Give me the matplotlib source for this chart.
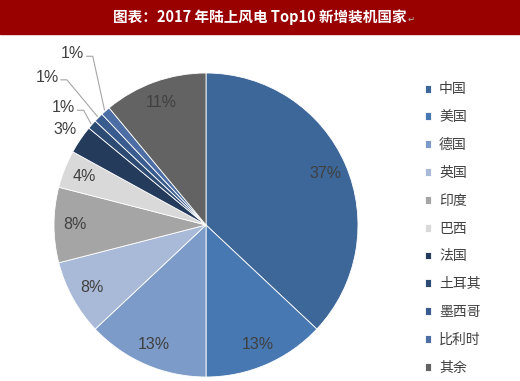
import matplotlib.pyplot as plt
import numpy as np

plt.switch_backend('Agg')
plt.rcParams['font.family'] = ['Noto Sans CJK SC', 'DejaVu Sans']

# data
countries = ["中国", "美国", "德国", "英国", "印度", "巴西", "法国", "土耳其", "墨西哥", "比利时", "其余"]
shares = [37, 13, 13, 8, 8, 4, 3, 1, 1, 1, 11]
colors = ["#3D6699", "#4878B2", "#7D9BC8", "#A9BAD8", "#A5A5A5", "#D9D9D9",
          "#243B5C", "#2D4A73", "#3A5B8E", "#4D6EA4", "#636363"]

title = "图表：2017 年陆上风电 Top10 新增装机国家"

W, H = 520, 381
fig = plt.figure(figsize=(W / 100, H / 100), dpi=100)

# title bar
fig.patches.append(plt.Rectangle((0, 1 - 34 / H), 1, 34 / H, transform=fig.transFigure,
                                 color="#990000", zorder=0))
t = fig.text(0.5, 1 - 17 / H, title, color="white", fontsize=10.5, fontweight="bold",
             ha="center", va="center")
fig.canvas.draw()
bb = t.get_window_extent()
fig.text(bb.x1 / W + 1 / W, 1 - 19 / H, "↵", color="#bbbbbb", fontsize=6,
         family="DejaVu Sans", ha="left", va="center")

# pie
cx, cy, r = 206, 225, 152
ax = fig.add_axes([(cx - r) / W, (H - cy - r) / H, 2 * r / W, 2 * r / H])
wedges, _ = ax.pie(shares, colors=colors, startangle=90, counterclock=False,
                   wedgeprops=dict(edgecolor="white", linewidth=0.6))
ax.set_xlim(-1, 1)
ax.set_ylim(-1, 1)
ax.set_aspect("equal")
ax.axis("off")

txt_color = "#404040"
pct_font = dict(fontsize=11.5, color=txt_color, family="Liberation Sans")
# label right-edge positions (data units) for the tiny slices with leader lines
small_label_pos = {7: (-0.86, 0.77), 8: (-0.97, 0.97), 9: (-0.80, 1.125)}
for i, (w, v) in enumerate(zip(wedges, shares)):
    mid = np.deg2rad((w.theta1 + w.theta2) / 2)
    x, y = np.cos(mid), np.sin(mid)
    if i in small_label_pos:
        lx, ly = small_label_pos[i]
        ax.text(lx, ly, f"{v}%", ha="right", va="center", **pct_font)
        ax.plot([lx + 0.015, lx + 0.055, x * 1.01], [ly - 0.015, ly - 0.015, y * 1.01],
                color="#a6a6a6", lw=0.8, clip_on=False)
    elif i == 6:
        ax.text(-0.93, 0.625, f"{v}%", ha="center", va="center", **pct_font)
    else:
        d = 0.86
        ax.text(x * d, y * d, f"{v}%", ha="center", va="center", **pct_font)

fig.legend(wedges, countries, loc="upper left", bbox_to_anchor=(412 / W, 1 - 70 / H),
           frameon=False, prop=dict(family="Noto Sans CJK SC", size=10),
           handlelength=0.5, handleheight=0.5,
           handletextpad=0.55, labelspacing=0.995, labelcolor=txt_color)

fig.savefig("out.png", dpi=100)
